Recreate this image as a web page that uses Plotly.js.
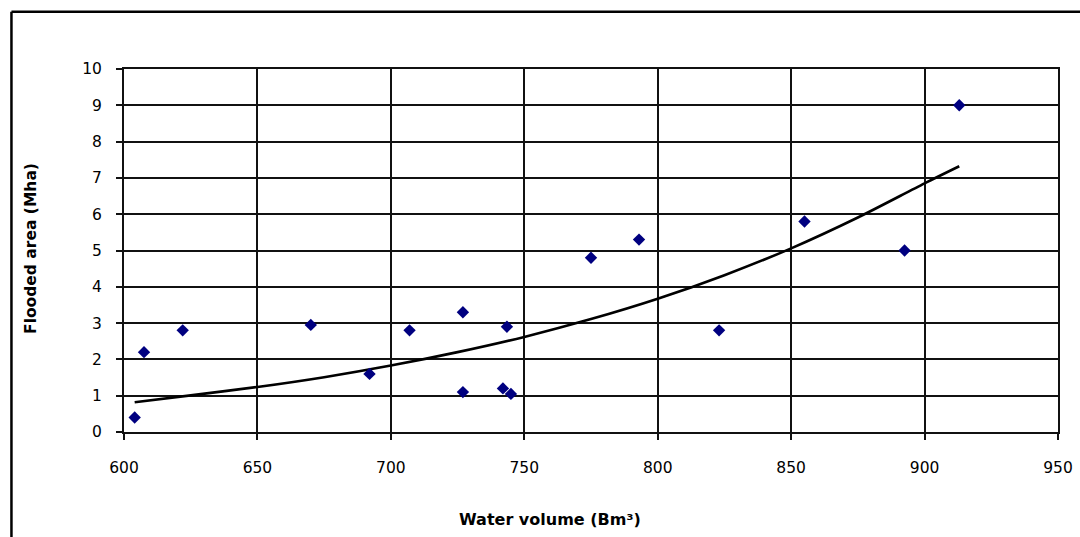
<!DOCTYPE html>
<html>
<head>
<meta charset="utf-8">
<script src="https://cdn.plot.ly/plotly-3.0.1.min.js"></script>
<style>
html,body{margin:0;padding:0;background:#fff;}
#chart{width:1080px;height:537px;}
</style>
</head>
<body>
<div id="chart"></div>
<script>
// Observed data points
var waterVolume = [604, 607.5, 622, 670, 692, 707, 727, 727, 742, 743.5, 745, 775, 793, 823, 855, 892.5, 913];
var floodedArea = [0.4, 2.2, 2.8, 2.95, 1.6, 2.8, 3.3, 1.1, 1.2, 2.9, 1.05, 4.8, 5.3, 2.8, 5.8, 5.0, 9.0];

// Trend line
var trendX = [604, 625, 650, 675, 700, 725, 750, 775, 800, 825, 850, 875, 900, 913];
var trendY = [0.82, 1.01, 1.24, 1.51, 1.83, 2.2, 2.62, 3.11, 3.67, 4.32, 5.06, 5.91, 6.85, 7.32];

var xTicks = [600, 650, 700, 750, 800, 850, 900, 950];
var yTicks = [0, 1, 2, 3, 4, 5, 6, 7, 8, 9, 10];

var xTitle = 'Water volume (Bm³)';
var yTitle = 'Flooded area (Mha)';

var fontFam = 'DejaVu Sans, Verdana, sans-serif';

var traces = [
  {
    x: trendX, y: trendY, type: 'scatter', mode: 'lines',
    line: {color: '#000000', width: 2.6, shape: 'spline', smoothing: 0.8},
    hoverinfo: 'skip', showlegend: false
  },
  {
    x: waterVolume, y: floodedArea, type: 'scatter', mode: 'markers',
    marker: {symbol: 'diamond', size: 9.5, color: '#000080'},
    showlegend: false
  }
];

var axisCommon = {
  showgrid: true, gridcolor: '#111111', gridwidth: 2,
  zeroline: false, showline: true, linecolor: '#111111', linewidth: 2, mirror: true,
  ticks: 'outside', ticklen: 6, tickcolor: '#111111', tickwidth: 2,
  tickfont: {family: fontFam, size: 15.5, color: '#000000'},
  automargin: false, fixedrange: true
};

var layout = {
  width: 1080, height: 537,
  margin: {l: 124, r: 22, t: 69, b: 105},
  paper_bgcolor: '#ffffff', plot_bgcolor: '#ffffff',
  font: {family: fontFam, size: 15.5, color: '#000000'},
  showlegend: false,
  xaxis: Object.assign({}, axisCommon, {
    range: [600, 950], tickvals: xTicks, ticktext: xTicks.map(String),
    ticklabelstandoff: 14
  }),
  yaxis: Object.assign({}, axisCommon, {
    range: [0, 10], tickvals: yTicks, ticktext: yTicks.map(String),
    ticklabelstandoff: 11
  }),
  annotations: [
    {text: xTitle, xref: 'paper', yref: 'paper', x: 0.456, y: -0.2397, xanchor: 'center', yanchor: 'middle',
     showarrow: false, font: {family: fontFam, size: 16, color: '#000000', weight: 'bold'}},
    {text: yTitle, xref: 'paper', yref: 'paper', x: -0.0996, y: 0.507, xanchor: 'center', yanchor: 'middle',
     textangle: -90, showarrow: false, font: {family: fontFam, size: 15.5, color: '#000000', weight: 'bold'}}
  ],
  shapes: [
    {type: 'line', xref: 'paper', yref: 'paper', x0: -0.1205, x1: 1.03, y0: 1.158, y1: 1.158, line: {color: '#000000', width: 2.5}},
    {type: 'line', xref: 'paper', yref: 'paper', x0: -0.1205, x1: -0.1205, y0: 1.158, y1: -0.3, line: {color: '#000000', width: 2.5}}
  ]
};

Plotly.newPlot('chart', traces, layout, {displayModeBar: false, staticPlot: true});
</script>
</body>
</html>
